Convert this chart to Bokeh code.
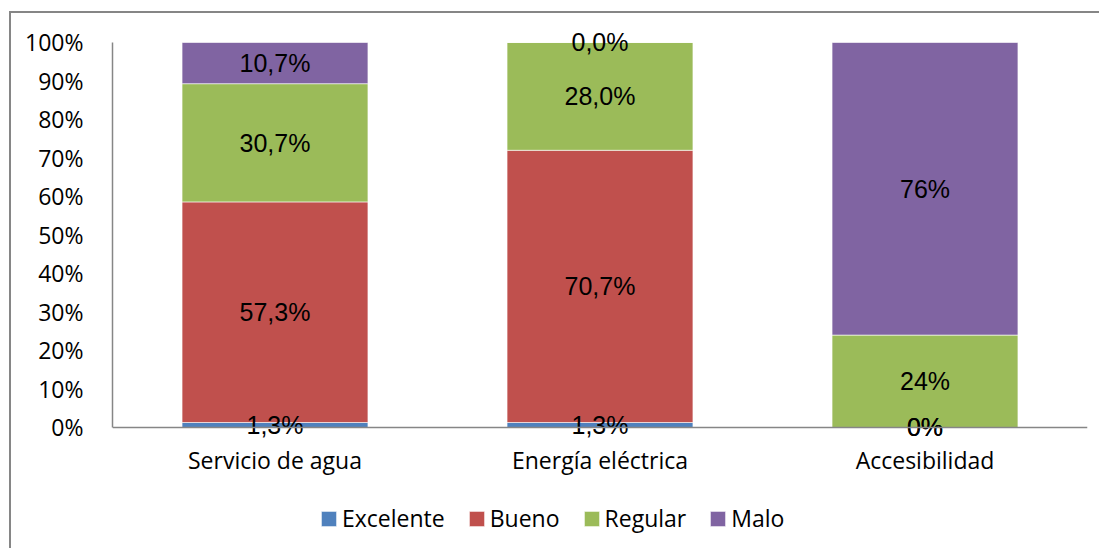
from bokeh.plotting import figure
from bokeh.models import ColumnDataSource, FactorRange, FixedTicker, Legend, LegendItem, Range1d
from bokeh.core.properties import value
from bokeh.embed import file_html
from bokeh.resources import INLINE

categories = ["Servicio de agua", "Energía eléctrica", "Accesibilidad"]
series = ["Excelente", "Bueno", "Regular", "Malo"]
excelente = [1.3, 1.3, 0.0]
bueno = [57.3, 70.7, 0.0]
regular = [30.7, 28.0, 24.0]
malo = [10.7, 0.0, 76.0]
label_decimals = [1, 1, 0]
colors = ["#4F81BD", "#C0504D", "#9BBB59", "#8064A2"]
y_ticks = [0, 10, 20, 30, 40, 50, 60, 70, 80, 90, 100]

values = [excelente, bueno, regular, malo]
src = ColumnDataSource(dict(cat=categories, **{s: v for s, v in zip(series, values)}))

# frame spans full height; axis drawn only from 0 to 100
p = figure(x_range=FactorRange(*categories, range_padding=0), y_range=Range1d(-31.95, 107.53),
           width=1090, height=537, output_backend="svg", toolbar_location=None,
           min_border_left=101, min_border_right=14, min_border_top=0, min_border_bottom=0)
p.outline_line_color = None
p.xgrid.grid_line_color = None
p.ygrid.grid_line_color = None
p.background_fill_color = "white"
p.border_fill_color = "white"
p.styles = {"border-left": "2px solid #868686", "border-top": "2px solid #868686",
            "margin-left": "9px", "margin-top": "11px"}

renderers = p.vbar_stack(series, x="cat", width=0.572, color=colors, source=src,
                         line_color="white", line_width=0.6)

# data labels
lx, ly, lt = [], [], []
for i, cat in enumerate(categories):
    bottom = 0.0
    for vals in values:
        v = vals[i]
        lx.append(cat)
        ly.append(bottom + v / 2)
        lt.append(f"{v:.{label_decimals[i]}f}".replace(".", ",") + "%")
        bottom += v
p.text(x=lx, y=ly, text=lt, text_align="center", text_baseline="middle",
       text_font=value("Liberation Sans"), text_font_size="25px", text_color="black")

for ax in (p.xaxis, p.yaxis):
    ax.axis_line_color = "#868686"
    ax.axis_line_width = 1.5
    ax.major_tick_line_color = None
    ax.minor_tick_line_color = None
    ax.major_label_text_font = "Open Sans"
    ax.major_label_text_font_size = "23px"
    ax.major_label_text_color = "black"

p.yaxis.ticker = FixedTicker(ticks=y_ticks)
p.yaxis.bounds = (0, 100)
p.yaxis.major_label_overrides = {t: f"{t}%" for t in y_ticks}
p.yaxis.major_label_standoff = 23
p.xaxis.fixed_location = 0
p.xaxis.major_label_standoff = 11

legend = Legend(items=[LegendItem(label=s, renderers=[r]) for s, r in zip(series, renderers)],
                orientation="horizontal", location=(207, 16),
                label_text_font="Open Sans", label_text_font_size="23px", label_text_color="black",
                glyph_width=19, glyph_height=19, label_standoff=4, spacing=22,
                padding=0, margin=0, border_line_color=None, background_fill_alpha=0)
p.add_layout(legend, "center")

open("out.html", "w").write(file_html(p, INLINE))
